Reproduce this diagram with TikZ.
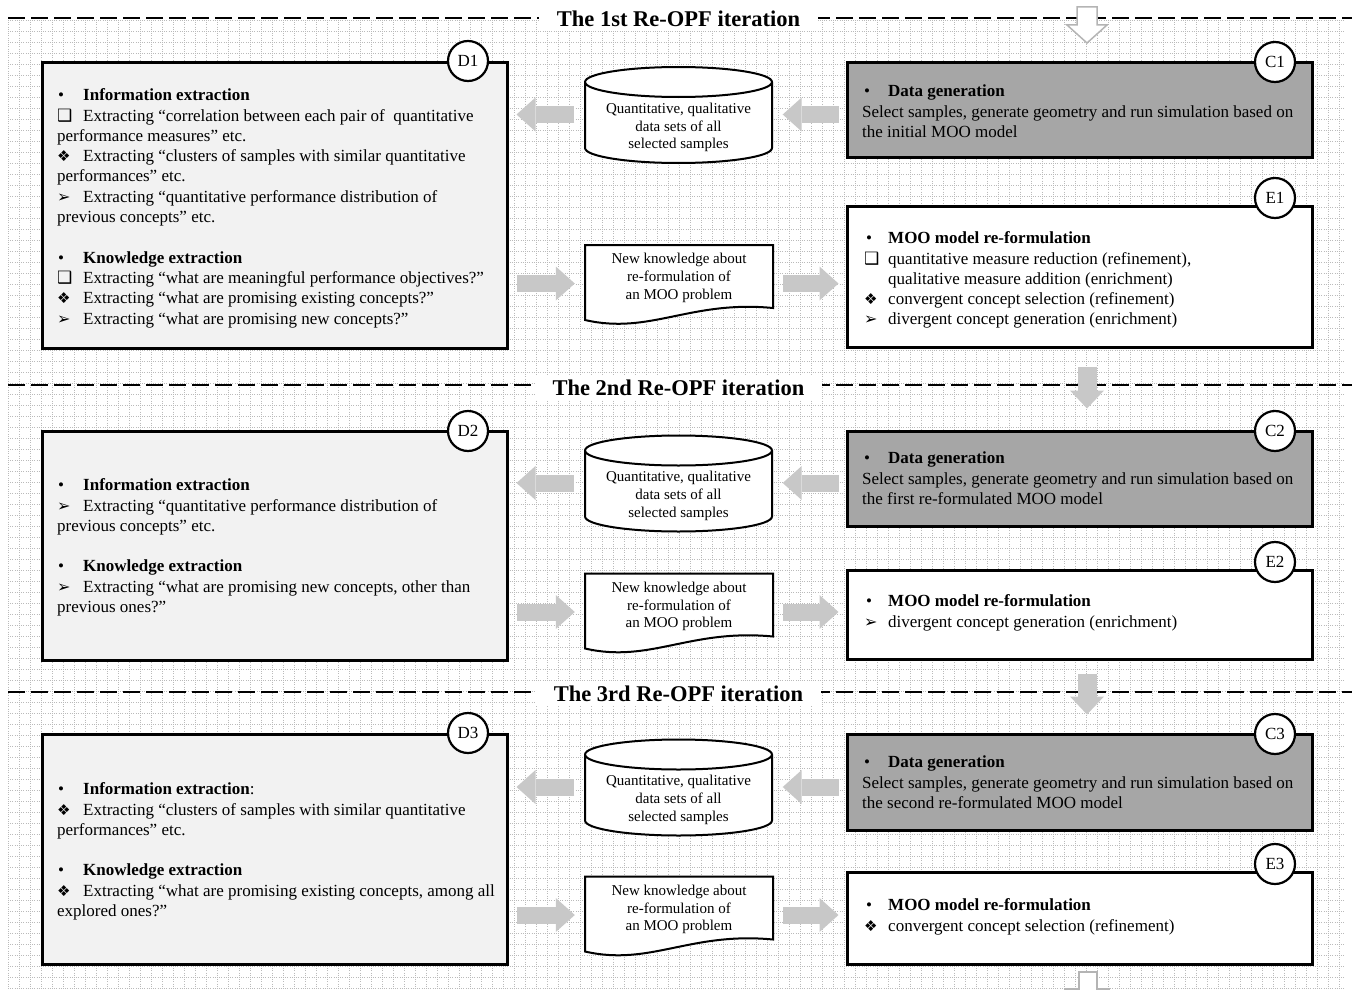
\documentclass[tikz,border=0pt]{standalone}
\usepackage{fontspec}
\setmainfont{Liberation Serif}
\newfontfamily\symf{DejaVu Sans}
\usetikzlibrary{arrows.meta}
\definecolor{dfill}{HTML}{F2F2F2}
\definecolor{cfill}{HTML}{A6A6A6}
\definecolor{arrc}{HTML}{C8C8C8}
\definecolor{gridc}{HTML}{BABABA}
\definecolor{hollowc}{HTML}{B4B4B4}
\newcommand\bl[2][26pt]{\makebox[#1][l]{#2}}
\newcommand\sqb{{\symf\fontsize{17}{17}\selectfont ❑}}
\newcommand\diab{{\symf\fontsize{15}{15}\selectfont ❖}}
\newcommand\arrb{{\symf\fontsize{16}{16}\selectfont ➢}}
\newcommand\fst{\rule{0pt}{15pt}}
\tikzset{
  gridline/.style={gridc, line width=0.5pt, dash pattern=on 1pt off 1.2pt},
  dashline/.style={black, line width=2.5pt, dash pattern=on 17pt off 6pt},
  ttl/.style={fill=white, inner xsep=18pt, inner ysep=4pt, font=\bfseries\fontsize{22.5}{22.5}\selectfont},
  box/.style={draw, line width=3pt, rectangle, inner sep=0pt, minimum width=465pt},
  dbox/.style={box, fill=dfill},
  cbox/.style={box, fill=cfill},
  ebox/.style={box, fill=white},
  lbl/.style={circle, draw, line width=2.2pt, fill=white, minimum size=40pt, inner sep=0pt, font=\fontsize{17}{17}\selectfont},
  btxt/.style={anchor=north west, inner sep=0pt, align=left, font=\fontsize{17}{20.3}\selectfont},
  stxt/.style={align=center, inner sep=0pt, font=\fontsize{15}{17.8}\selectfont},
  holder/.style={inner sep=0pt, minimum width=188pt},
  harr/.style={arrc, line width=17pt, -{Triangle[width=34pt,length=19pt,line width=0pt]}},
  varr/.style={arrc, line width=19pt, -{Triangle[width=34pt,length=18pt,line width=0pt]}},
  hollow/.style={draw=hollowc, line width=1.5pt, fill=white, line join=miter},
  cylpic/.pic={
    \path[draw, line width=2pt, fill=white] (-93.5,-32.5) -- (-93.5,33.5)
      arc[start angle=180, end angle=360, x radius=93.5pt, y radius=15pt]
      -- (93.5,-32.5)
      arc[start angle=0, end angle=180, x radius=93.5pt, y radius=15pt] -- cycle;
    \draw[line width=2pt] (-93.5,-32.5) arc[start angle=180, end angle=360, x radius=93.5pt, y radius=15pt];
  },
  docpic/.pic={
    \path[draw, line width=2pt, fill=white] (-94,-38.5) -- (94,-38.5) -- (94,24.5)
      .. controls (11,16.5) and (-29,51.5) .. (-94,36.5) -- cycle;
  }
}
\begin{document}
\begin{tikzpicture}[x=1pt,y=-1pt]
\useasboundingbox (0,0) rectangle (1352,990);
\clip (0,0) rectangle (1352,990);
% background grid
\foreach \x in {8,19,...,1345} \draw[gridline] (\x,20) -- (\x,990);
\foreach \y in {20,31,...,990} \draw[gridline] (8,\y) -- (1345,\y);
% section separators
\draw[dashline] (8,18) -- (1352,18);
\draw[dashline] (8,385) -- (1352,385);
\draw[dashline] (8,692) -- (1352,692);
\node[ttl] (t1) at (678.5,19) {The 1st Re-OPF iteration};
\node[ttl] (t2) at (678.5,388) {The 2nd Re-OPF iteration};
\node[ttl] (t3) at (678.5,694) {The 3rd Re-OPF iteration};
\coordinate (ax) at (1087,0);
% top incoming hollow arrow
\path[hollow] (1077,7) -- (1097,7) -- (1097,25) -- (1107,25) -- (1087,43) -- (1067,25) -- (1077,25) -- cycle;
% bottom outgoing hollow arrow
\path[hollow] (1079,1000) -- (1079,972) -- (1097,972) -- (1097,989) -- (1110,989);
\draw[hollow] (1079,989) -- (1064,989);

% ===== Section 1 =====
\node[dbox, minimum height=285pt] (D1) at (274.5,205.5) {};
\node[cbox, minimum height=94pt] (C1) at (1079.5,110) {};
\node[ebox, minimum height=141pt] (E1) at (1079.5,276.5) {};
\pic at (678.5,114.5) {cylpic};
\node[holder, minimum height=95pt] (cyl1) at (678.5,114.5) {};
\node[stxt] (cyl1t) at (678.5,127.5) {Quantitative, qualitative\\data sets of all\\selected samples};
\pic at (679,283.5) {docpic};
\node[holder, minimum height=77pt] (doc1) at (679,283.5) {};
\node[stxt] (doc1t) at (679,278) {New knowledge about\\re-formulation of\\an MOO problem};
\node[btxt] (D1t) at (57,85.5) {\fst\bl{\hspace{1pt}•}\textbf{Information extraction}\\
\bl{\sqb}Extracting “correlation between each pair of\ \ quantitative\\
performance measures” etc.\\
\bl{\diab}Extracting “clusters of samples with similar quantitative\\
performances” etc.\\
\bl{\arrb}Extracting “quantitative performance distribution of\\
previous concepts” etc.\\[20.3pt]
\bl{\hspace{1pt}•}\textbf{Knowledge extraction}\\
\bl{\sqb}Extracting “what are meaningful performance objectives?”\\
\bl{\diab}Extracting “what are promising existing concepts?”\\
\bl{\arrb}Extracting “what are promising new concepts?”};
\node[btxt] (C1t) at (862,81.5) {\fst\hspace{2pt}\bl[24pt]{•}\textbf{Data generation}\\
Select samples, generate geometry and run simulation based on\\
the initial MOO model};
\node[btxt] (E1t) at (864,228.5) {\fst\hspace{2pt}\bl[22pt]{•}\textbf{MOO model re-formulation}\\
\bl[24pt]{\sqb}quantitative measure reduction (refinement),\\
\hspace{24pt}qualitative measure addition (enrichment)\\
\bl[24pt]{\diab}convergent concept selection (refinement)\\
\bl[24pt]{\arrb}divergent concept generation (enrichment)};
\node[lbl] (D1c) at (468,61) {D1};
\node[lbl] (C1c) at (1275,62) {C1};
\node[lbl] (E1c) at (1275,198) {E1};
\draw[harr, shorten <=7pt, shorten >=10pt] (C1.west |- cyl1) -- (cyl1.east);
\draw[harr, shorten <=10pt, shorten >=8pt] (cyl1.west) -- (cyl1.west -| D1.east);
\draw[harr, shorten <=8pt, shorten >=10pt] (D1.east |- doc1) -- (doc1.west);
\draw[harr, shorten <=10pt, shorten >=7pt] (doc1.east) -- (doc1.east -| E1.west);

% ===== Section 2 =====
\node[dbox, minimum height=229pt] (D2) at (274.5,545.5) {};
\node[cbox, minimum height=95pt] (C2) at (1079.5,478.5) {};
\node[ebox, minimum height=89pt] (E2) at (1079.5,614.5) {};
\pic at (678.5,483) {cylpic};
\node[holder, minimum height=95pt] (cyl2) at (678.5,483) {};
\node[stxt] (cyl2t) at (678.5,496) {Quantitative, qualitative\\data sets of all\\selected samples};
\pic at (679,612) {docpic};
\node[holder, minimum height=77pt] (doc2) at (679,612) {};
\node[stxt] (doc2t) at (679,606.5) {New knowledge about\\re-formulation of\\an MOO problem};
\node[btxt] (D2t) at (57,475.5) {\fst\bl{\hspace{1pt}•}\textbf{Information extraction}\\
\bl{\arrb}Extracting “quantitative performance distribution of\\
previous concepts” etc.\\[20.3pt]
\bl{\hspace{1pt}•}\textbf{Knowledge extraction}\\
\bl{\arrb}Extracting “what are promising new concepts, other than\\
previous ones?”};
\node[btxt] (C2t) at (862,448.5) {\fst\hspace{2pt}\bl[24pt]{•}\textbf{Data generation}\\
Select samples, generate geometry and run simulation based on\\
the first re-formulated MOO model};
\node[btxt] (E2t) at (864,591.5) {\fst\hspace{2pt}\bl[22pt]{•}\textbf{MOO model re-formulation}\\
\bl[24pt]{\arrb}divergent concept generation (enrichment)};
\node[lbl] (D2c) at (468,431) {D2};
\node[lbl] (C2c) at (1275,431) {C2};
\node[lbl] (E2c) at (1275,562) {E2};
\draw[harr, shorten <=7pt, shorten >=10pt] (C2.west |- cyl2) -- (cyl2.east);
\draw[harr, shorten <=10pt, shorten >=8pt] (cyl2.west) -- (cyl2.west -| D2.east);
\draw[harr, shorten <=8pt, shorten >=10pt] (D2.east |- doc2) -- (doc2.west);
\draw[harr, shorten <=10pt, shorten >=7pt] (doc2.east) -- (doc2.east -| E2.west);

% ===== Section 3 =====
\node[dbox, minimum height=230pt] (D3) at (274.5,849) {};
\node[cbox, minimum height=96pt] (C3) at (1079.5,782) {};
\node[ebox, minimum height=92pt] (E3) at (1079.5,918) {};
\pic at (678.5,787) {cylpic};
\node[holder, minimum height=95pt] (cyl3) at (678.5,787) {};
\node[stxt] (cyl3t) at (678.5,800) {Quantitative, qualitative\\data sets of all\\selected samples};
\pic at (679,915) {docpic};
\node[holder, minimum height=77pt] (doc3) at (679,915) {};
\node[stxt] (doc3t) at (679,909.5) {New knowledge about\\re-formulation of\\an MOO problem};
\node[btxt] (D3t) at (57,779.5) {\fst\bl{\hspace{1pt}•}\textbf{Information extraction}:\\
\bl{\diab}Extracting “clusters of samples with similar quantitative\\
performances” etc.\\[20.3pt]
\bl{\hspace{1pt}•}\textbf{Knowledge extraction}\\
\bl{\diab}Extracting “what are promising existing concepts, among all\\
explored ones?”};
\node[btxt] (C3t) at (862,752.5) {\fst\hspace{2pt}\bl[24pt]{•}\textbf{Data generation}\\
Select samples, generate geometry and run simulation based on\\
the second re-formulated MOO model};
\node[btxt] (E3t) at (864,895.5) {\fst\hspace{2pt}\bl[22pt]{•}\textbf{MOO model re-formulation}\\
\bl[24pt]{\diab}convergent concept selection (refinement)};
\node[lbl] (D3c) at (468,733) {D3};
\node[lbl] (C3c) at (1275,734) {C3};
\node[lbl] (E3c) at (1275,864) {E3};
\draw[harr, shorten <=7pt, shorten >=10pt] (C3.west |- cyl3) -- (cyl3.east);
\draw[harr, shorten <=10pt, shorten >=8pt] (cyl3.west) -- (cyl3.west -| D3.east);
\draw[harr, shorten <=8pt, shorten >=10pt] (D3.east |- doc3) -- (doc3.west);
\draw[harr, shorten <=10pt, shorten >=7pt] (doc3.east) -- (doc3.east -| E3.west);

% ===== between iterations =====
\draw[varr, shorten <=18pt, shorten >=21pt] (E1.south -| ax) -- (C2.north -| ax);
\draw[varr, shorten <=13pt, shorten >=18pt] (E2.south -| ax) -- (C3.north -| ax);
\end{tikzpicture}
\end{document}
